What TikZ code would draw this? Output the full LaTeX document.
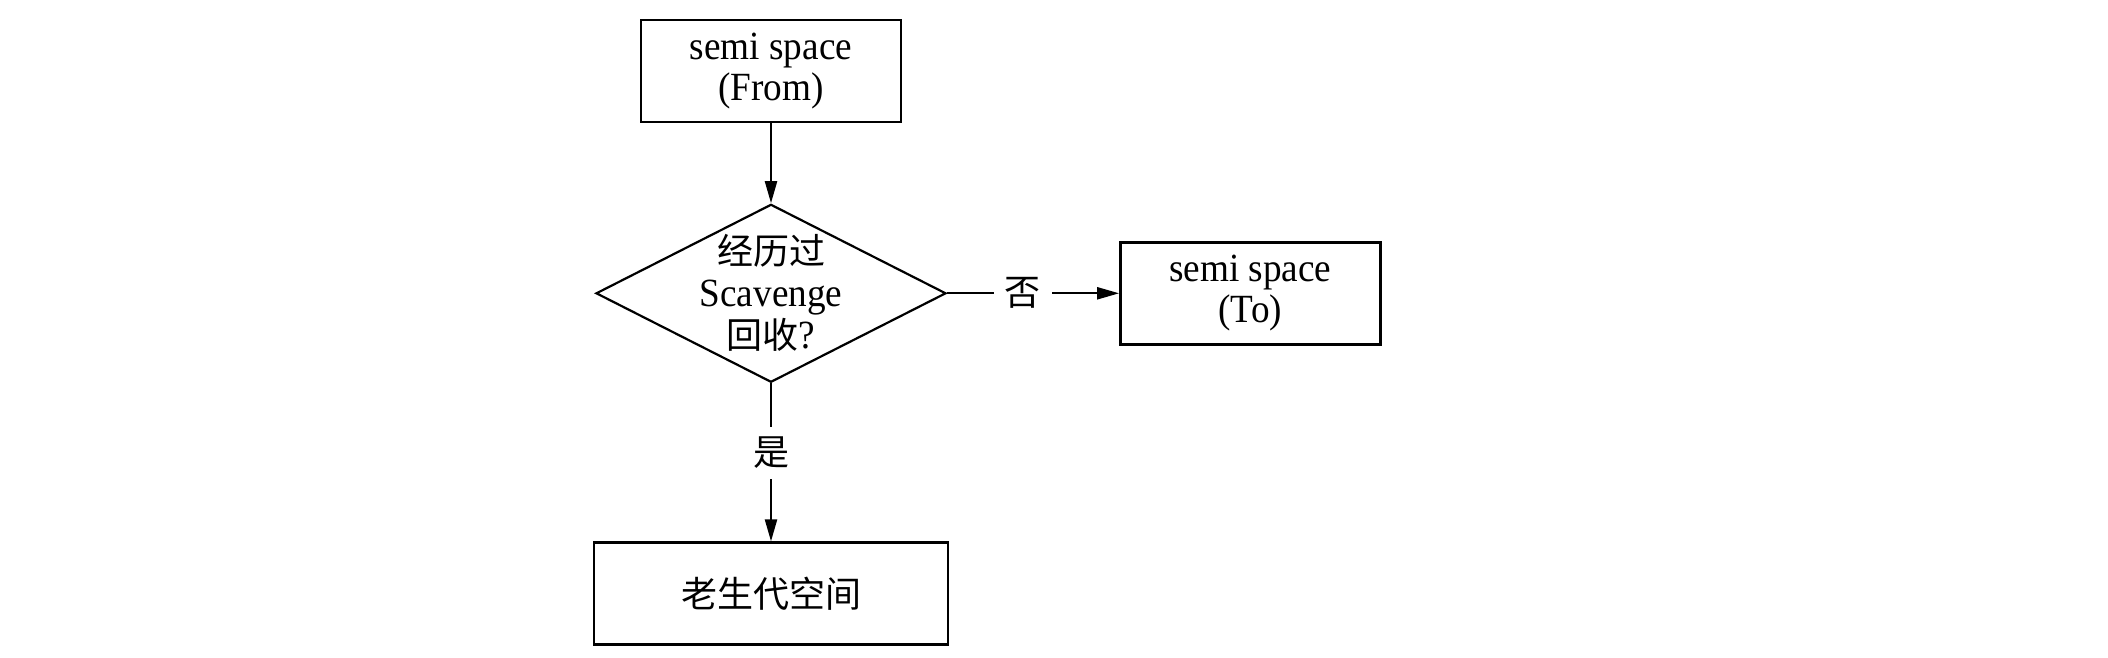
\documentclass[tikz,border=0pt]{standalone}
\usepackage{fontspec}
\setmainfont{Liberation Serif}[FakeStretch=0.93]
\newfontfamily\cjk{Noto Sans CJK SC}[Scale=0.9]
\usetikzlibrary{shapes.geometric,
                arrows.meta,
                positioning}
\tikzset{block/.style=
   {rectangle,
    draw,
    line width=1.2pt,
    text centered,
    align=center,
    inner sep=0pt,
    minimum width=130pt,
    minimum height=51pt}}
\tikzset{decision/.style=
   {diamond,
    draw,
    line width=1.1pt,
    inner sep=0pt,
    minimum width=175pt,
    minimum height=89pt}}
\tikzset{answer/.style = {fill=white, inner xsep=5.5pt, inner ysep=5pt, pos=0.44}}
\tikzset{arrow/.style = {draw, line width=1.1pt, -{Triangle[length=11pt,width=6pt]}}}

\begin{document}
\begin{tikzpicture}[font=\fontsize{20pt}{20.5pt}\selectfont]

    \useasboundingbox (0,0) rectangle (1054pt,-329pt);

    % Blocks
    \node [block] (from) at (385.5pt,-35.5pt) {semi space\\(From)};
    \node [decision, below=40pt of from] (check) {};
    \node [align=center, font=\fontsize{20pt}{21pt}\selectfont] (checktext) at (check.center)
        {{\cjk 经历过}\\Scavenge\\{\cjk 回收}?};
    \node [block, right=86pt of check] (to) {semi space\\(To)};
    \node [block, below=79pt of check, minimum width=177pt] (old) {\cjk 老生代空间};

    % Draw edges
    \path [arrow] (from) -- (check);

    \path [arrow]
    (check)
    -- node [answer] {\cjk 否}
    (to);

    \path [arrow]
    (check)
    -- node [answer] {\cjk 是}
    (old);

\end{tikzpicture}
\end{document}
